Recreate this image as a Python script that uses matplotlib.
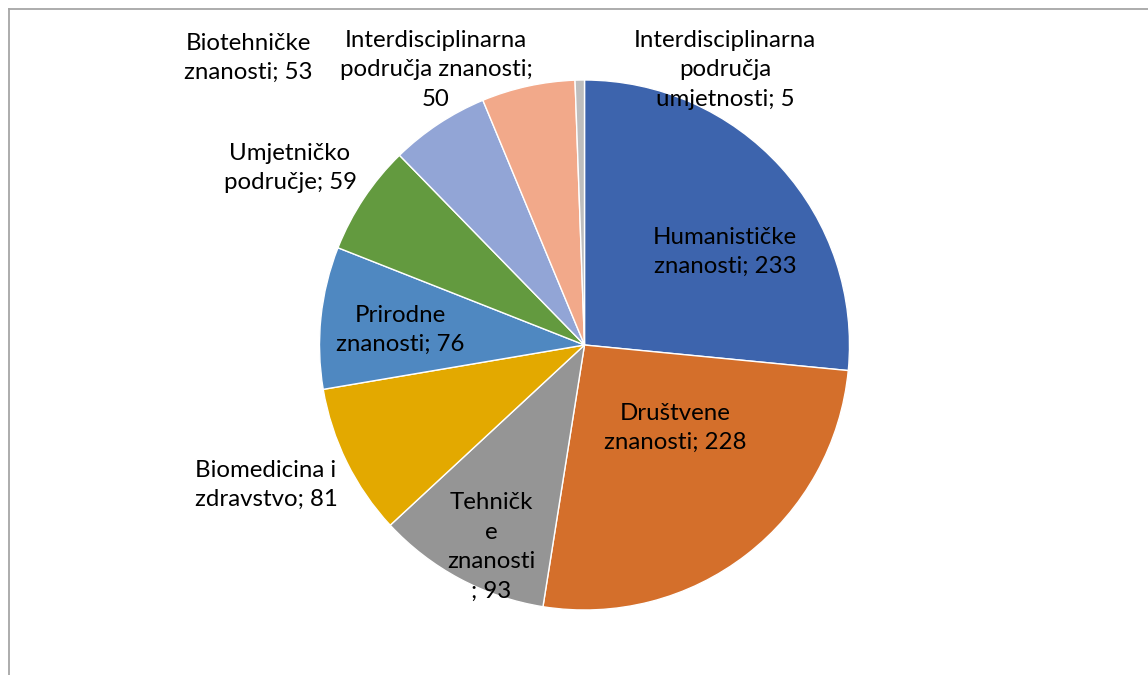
import matplotlib
matplotlib.use("Agg")
import matplotlib.pyplot as plt
from matplotlib.lines import Line2D

categories = ["Humanističke znanosti", "Društvene znanosti", "Tehničke znanosti",
              "Biomedicina i zdravstvo", "Prirodne znanosti", "Umjetničko područje",
              "Biotehničke znanosti", "Interdisciplinarna područja znanosti",
              "Interdisciplinarna područja umjetnosti"]
values = [233, 228, 93, 81, 76, 59, 53, 50, 5]
label_texts = ["Humanističke\nznanosti; 233", "Društvene\nznanosti; 228",
               "Tehničk\ne\nznanosti\n; 93", "Biomedicina i\nzdravstvo; 81",
               "Prirodne\nznanosti; 76", "Umjetničko\npodručje; 59",
               "Biotehničke\nznanosti; 53", "Interdisciplinarna\npodručja znanosti;\n50",
               "Interdisciplinarna\npodručja\numjetnosti; 5"]
colors = ["#3D64AD", "#D46F2B", "#959595", "#E3A900", "#4F88C1",
          "#639A3F", "#92A5D6", "#F2A98A", "#BEBEBE"]
# label centers in pixel coordinates of the 1148x675 image
label_px = [(725, 252), (675, 428), (491, 547), (266, 485), (400, 330),
            (290, 168), (248, 58), (436, 70), (725, 70)]

W, H = 1148, 675
fig = plt.figure(figsize=(W / 100, H / 100), dpi=100)
fig.patch.set_facecolor("white")

cx, cy, r = 584.5, 345, 265
ax = fig.add_axes([(cx - r) / W, (H - cy - r) / H, 2 * r / W, 2 * r / H])
ax.pie(values, colors=colors, startangle=90, counterclock=False,
       wedgeprops=dict(edgecolor="white", linewidth=1.0), radius=1.0)
ax.set_xlim(-1, 1)
ax.set_ylim(-1, 1)
ax.set_aspect("equal")
ax.axis("off")

for txt, (px, py) in zip(label_texts, label_px):
    fig.text(px / W, 1 - py / H, txt, ha="center", va="center",
             fontsize=17.3, family="Lato", color="black", linespacing=1.5,
             multialignment="center")

# chart-area border (left and top visible)
gray = "#A6A6A6"
fig.add_artist(Line2D([8.5 / W, 8.5 / W], [0, 1 - 9 / H], transform=fig.transFigure,
                      color=gray, linewidth=1.3))
fig.add_artist(Line2D([8.5 / W, 1], [1 - 9 / H, 1 - 9 / H], transform=fig.transFigure,
                      color=gray, linewidth=1.3))

fig.savefig("out.png", dpi=100, facecolor="white")
